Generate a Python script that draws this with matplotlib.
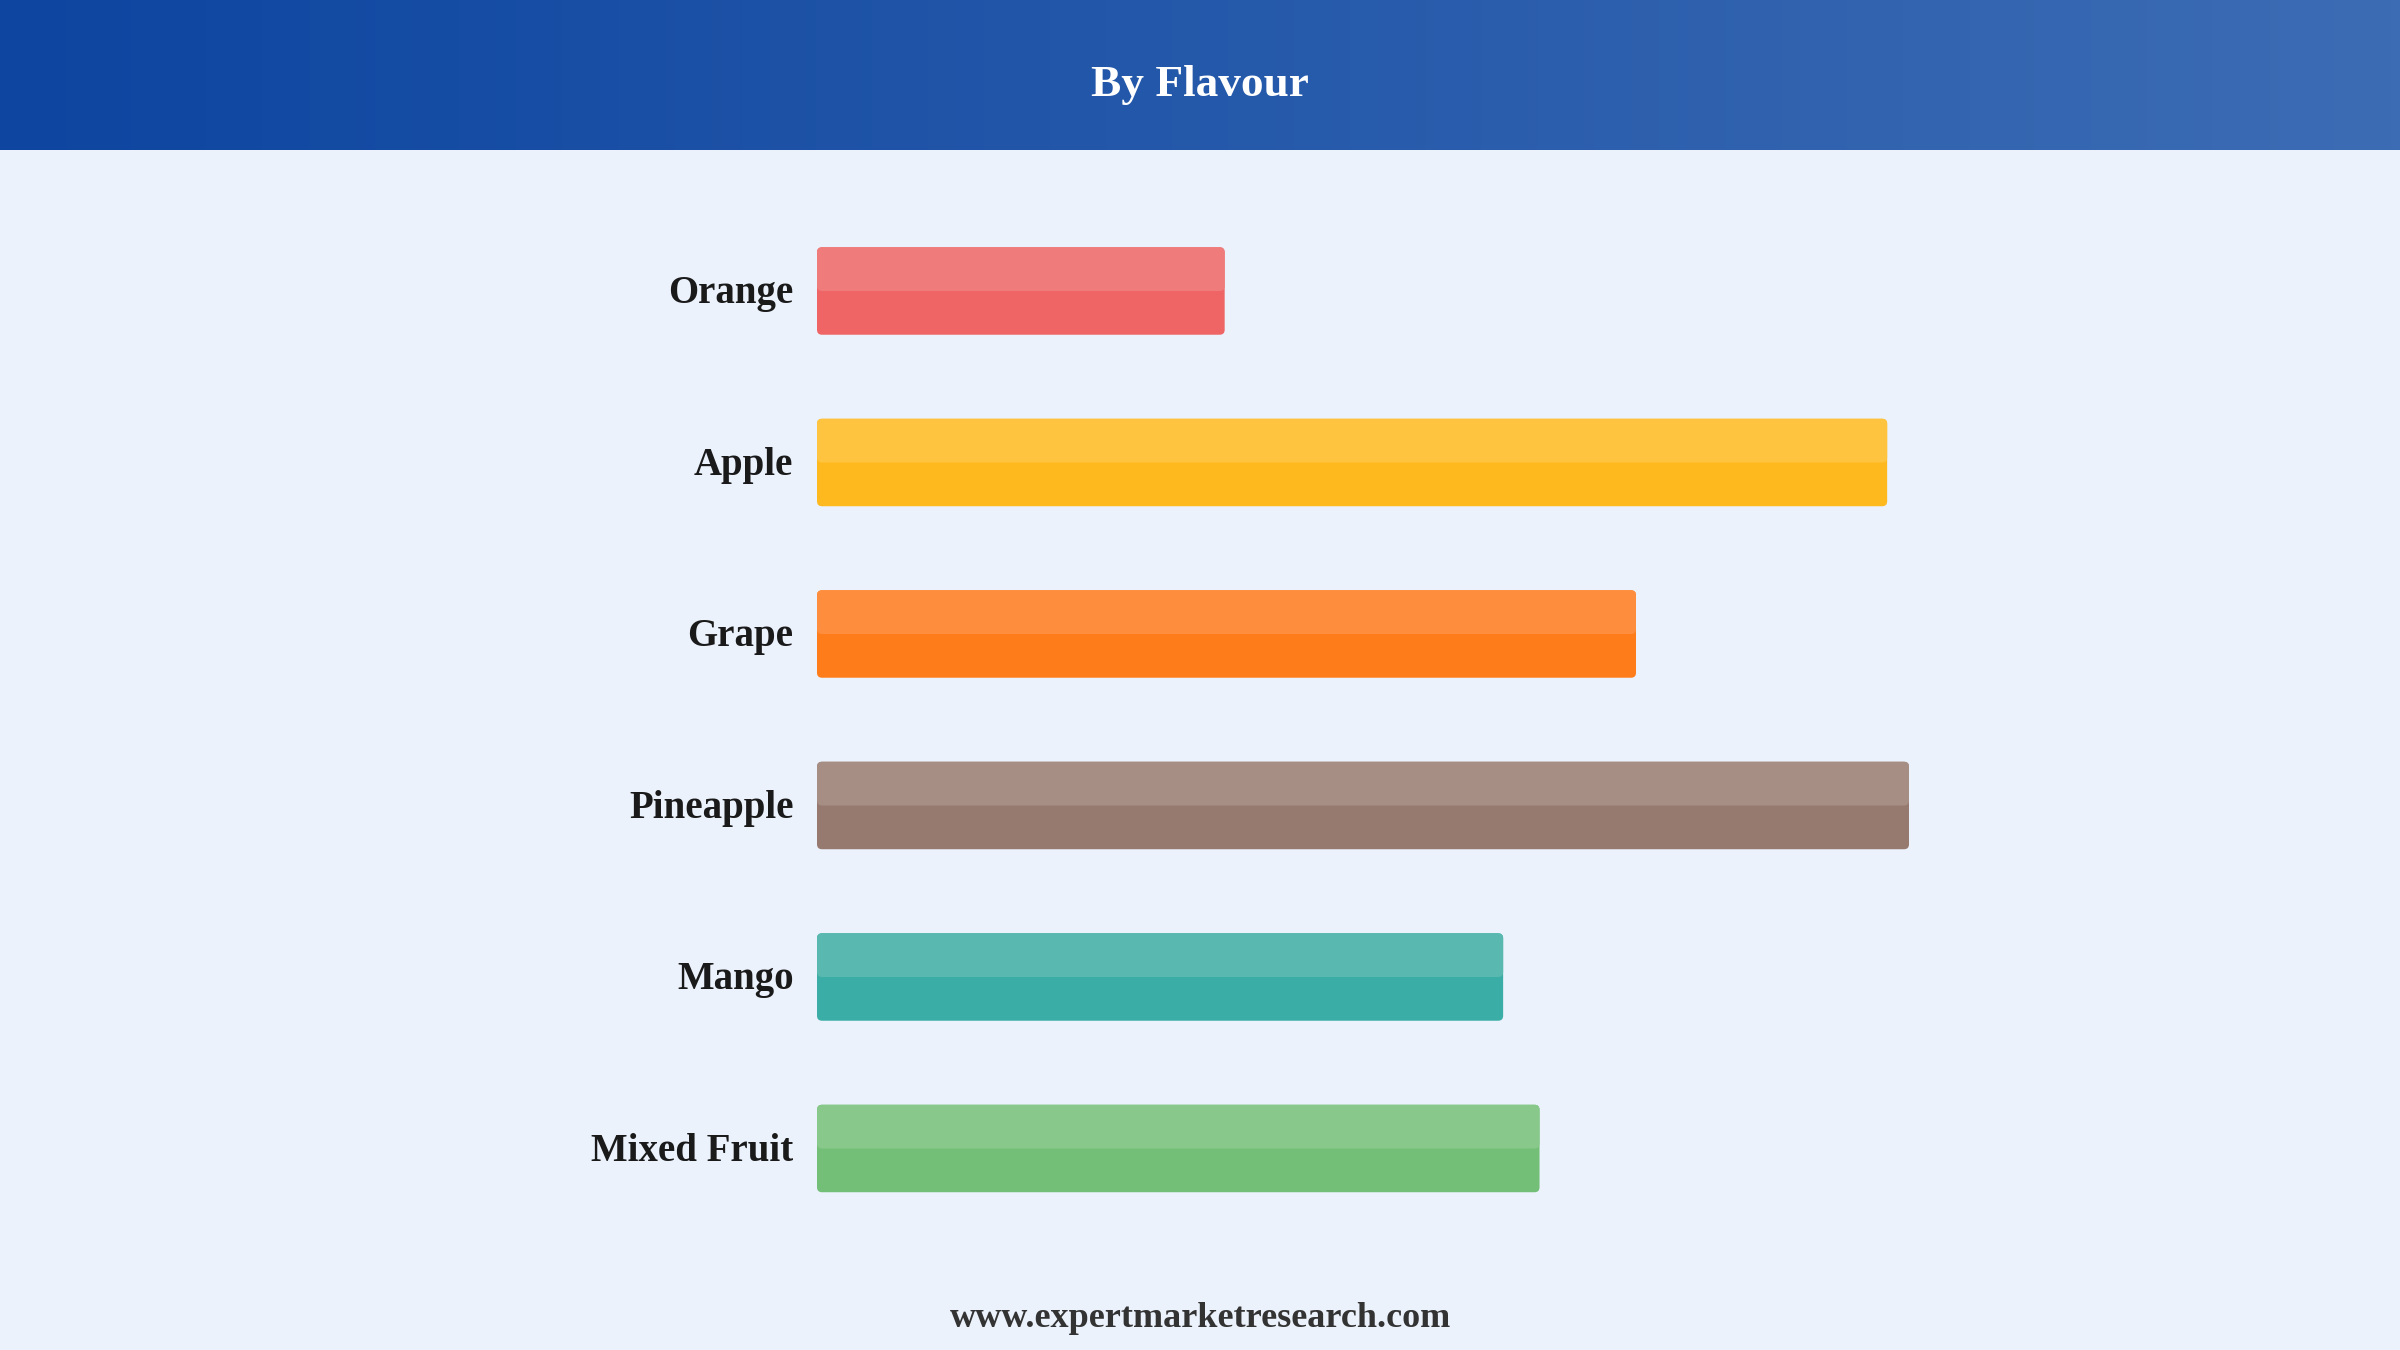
import numpy as np
import matplotlib
matplotlib.use("Agg")
import matplotlib.pyplot as plt
from matplotlib.patches import FancyBboxPatch
from matplotlib.colors import LinearSegmentedColormap

# ---- data ----
categories = ["Orange", "Apple", "Grape", "Pineapple", "Mango", "Mixed Fruit"]
values = [11.2, 29.4, 22.5, 30.0, 18.85, 19.85]
dark_colors = ["#EF6565", "#FEB91E", "#FE7C1A", "#967A70", "#3AAEA6", "#73BF77"]
light_colors = ["#F07B7B", "#FEC43F", "#FE8E3E", "#A78E85", "#59B9B0", "#88C98B"]
title = "By Flavour"
footer = "www.expertmarketresearch.com"

W, H = 2400, 1350
DPI = 100
BG = "#EBF2FC"
SERIF = ["Liberation Serif", "DejaVu Serif"]

fig = plt.figure(figsize=(W / DPI, H / DPI), dpi=DPI, facecolor=BG)

# ---- header gradient ----
hdr_h = 150
hax = fig.add_axes([0, 1 - hdr_h / H, 1, hdr_h / H])
cmap = LinearSegmentedColormap.from_list("hdr", ["#0D45A0", "#3C6CB4"])
hax.imshow(np.linspace(0, 1, 512).reshape(1, -1), aspect="auto", cmap=cmap,
           extent=[0, 1, 0, 1])
hax.set_axis_off()
fig.text(0.5, 1 - 96 / H, title, ha="center", va="baseline", color="white",
         fontsize=32.6, fontweight="bold", family=SERIF)

# ---- bar axes ----
left_px = 817
px_per_unit = 36.4
xmax = 33.0
spacing = 171.5
first_center = 291.0
n = len(categories)
top_px = first_center - spacing / 2
bottom_px = first_center + spacing * (n - 1) + spacing / 2
ax = fig.add_axes([left_px / W, 1 - bottom_px / H,
                   xmax * px_per_unit / W, (bottom_px - top_px) / H])
ax.set_facecolor("none")
ax.set_xlim(0, xmax)
ax.set_ylim(n - 0.5, -0.5)
ax.set_axis_off()

bar_h = 0.51
r_px = 5.0
r = r_px / px_per_unit
aspect = px_per_unit / spacing
for i, (cat, v) in enumerate(zip(categories, values)):
    y0 = i - bar_h / 2
    ax.add_patch(FancyBboxPatch((0, y0), v, bar_h,
                                boxstyle=f"round,pad=0,rounding_size={r}",
                                mutation_aspect=aspect, facecolor=dark_colors[i],
                                edgecolor="none"))
    ax.add_patch(FancyBboxPatch((0, y0), v, bar_h / 2,
                                boxstyle=f"round,pad=0,rounding_size={r}",
                                mutation_aspect=aspect, facecolor=light_colors[i],
                                edgecolor="none"))
    ax.text(-23.5 / px_per_unit, i + 12.3 / spacing, cat, ha="right", va="baseline",
            fontsize=28, fontweight="bold", color="#1A1A1A", family=SERIF)

fig.text(0.5, 1 - 1326.7 / H, footer, ha="center", va="baseline", color="#333333",
         fontsize=26, fontweight="bold", family=SERIF)

fig.savefig("out.png", dpi=DPI, facecolor=BG)
